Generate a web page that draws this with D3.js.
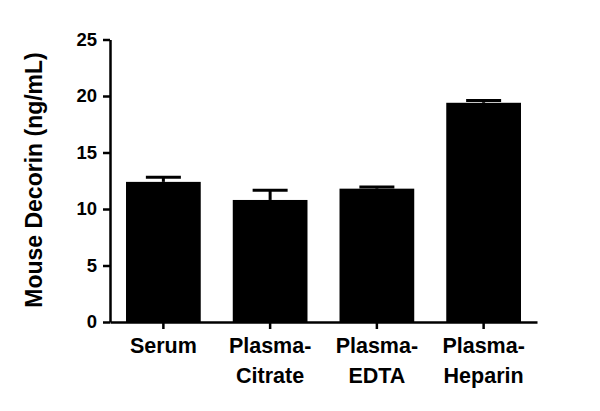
<!DOCTYPE html>
<html>
<head>
<meta charset="utf-8">
<script src="https://cdn.jsdelivr.net/npm/d3@7"></script>
<style>
  body { margin: 0; background: #fff; }
  text { font-family: Arial, "Liberation Sans", sans-serif; font-weight: bold; fill: #000; }
</style>
</head>
<body>
<script>
const categories = [["Serum"], ["Plasma-", "Citrate"], ["Plasma-", "EDTA"], ["Plasma-", "Heparin"]];
const means = [12.4, 10.8, 11.8, 19.4];
const errors = [0.4, 0.85, 0.15, 0.2];
const yTicks = [0, 5, 10, 15, 20, 25];
const yTitle = "Mouse Decorin (ng/mL)";

const dimensions = {
    width: 600,
    height: 411,
    left: 110,
    right: 537,
    top: 39.5,
    bottom: 322,
};

const svg = d3.select("body").append("svg")
    .attr("width", dimensions.width)
    .attr("height", dimensions.height);

const keys = categories.map(c => c.join(""));

const xScale = d3.scaleBand()
    .domain(keys)
    .range([dimensions.left, dimensions.right])
    .paddingInner(0.3)
    .paddingOuter(0.15);

const yScale = d3.scaleLinear()
    .domain([0, 25])
    .range([dimensions.bottom, dimensions.top]);

// bars
svg.append("g")
    .selectAll("rect")
    .data(means)
    .join("rect")
    .attr("x", (d, i) => xScale(keys[i]))
    .attr("y", d => yScale(d))
    .attr("width", xScale.bandwidth())
    .attr("height", d => yScale(0) - yScale(d))
    .attr("fill", "#000");

// error bars (upper only)
const err = svg.append("g").attr("stroke", "#000");
means.forEach((m, i) => {
    const cx = xScale(keys[i]) + xScale.bandwidth() / 2;
    err.append("line")
        .attr("x1", cx).attr("x2", cx)
        .attr("y1", yScale(m)).attr("y2", yScale(m + errors[i]))
        .attr("stroke-width", 3);
    err.append("line")
        .attr("x1", cx - 17.5).attr("x2", cx + 17.5)
        .attr("y1", yScale(m + errors[i])).attr("y2", yScale(m + errors[i]))
        .attr("stroke-width", 3);
});

// y axis
const yAxis = svg.append("g")
    .attr("transform", `translate(${dimensions.left},0)`)
    .call(d3.axisLeft(yScale).tickValues(yTicks).tickSize(7).tickPadding(6).tickSizeOuter(0));
yAxis.select(".domain").attr("stroke-width", 2.5);
yAxis.selectAll(".tick line").attr("stroke-width", 2.5);
yAxis.selectAll(".tick text").attr("font-size", 18.5).attr("font-family", null);

// x axis
const xAxis = svg.append("g")
    .attr("transform", `translate(0,${dimensions.bottom})`)
    .call(d3.axisBottom(xScale).tickSize(7).tickSizeOuter(0).tickFormat(""));
xAxis.select(".domain").attr("stroke-width", 2.5);
xAxis.selectAll(".tick line").attr("stroke-width", 2.5);

const labels = svg.append("g").attr("text-anchor", "middle").attr("font-size", 21.5);
categories.forEach((lines, i) => {
    const cx = xScale(keys[i]) + xScale.bandwidth() / 2;
    const t = labels.append("text").attr("x", cx).attr("y", 353);
    lines.forEach((s, j) => {
        t.append("tspan").attr("x", cx).attr("dy", j === 0 ? 0 : 30).text(s);
    });
});

// y title
svg.append("text")
    .attr("transform", `translate(42,180) rotate(-90)`)
    .attr("text-anchor", "middle")
    .attr("font-size", 23)
    .text(yTitle);
</script>
</body>
</html>
